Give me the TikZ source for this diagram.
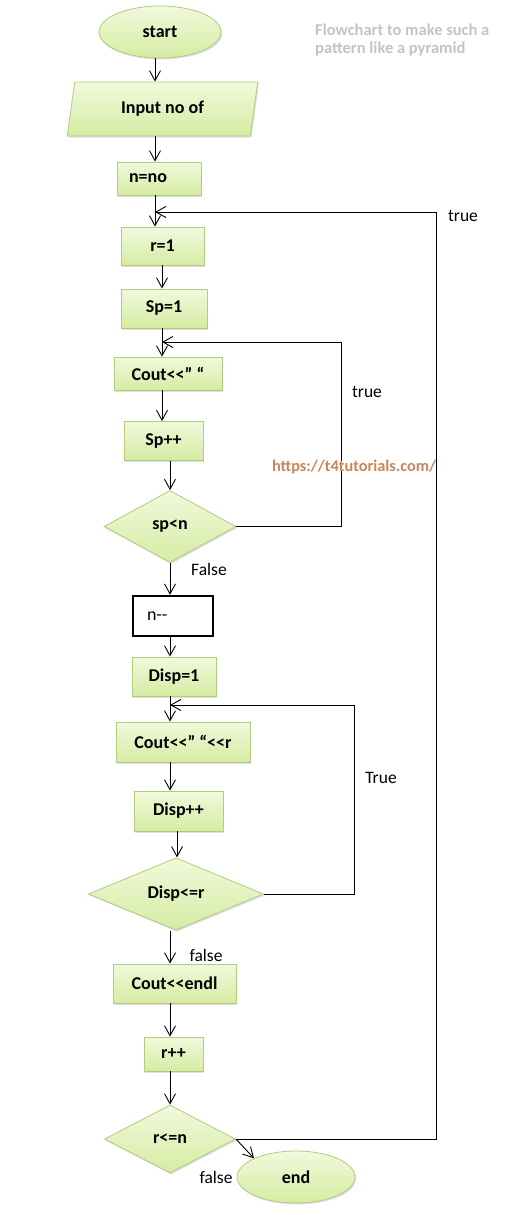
\documentclass[tikz,border=0pt]{standalone}
\usepackage{fontspec}
\setmainfont{Carlito}[Ligatures=TeXOff]
\usetikzlibrary{shapes.geometric,arrows.meta,shadows}
\definecolor{fillTop}{HTML}{F1F9DC}
\definecolor{fillBot}{HTML}{D5ECA3}
\definecolor{edgec}{HTML}{B2CB7F}
\definecolor{titlegray}{HTML}{C4C4C4}
\definecolor{wmark}{HTML}{C8865A}
\tikzset{
  base/.style={draw=edgec, line width=0.8pt, top color=fillTop, bottom color=fillBot,
    font=\bfseries\fontsize{18}{21}\selectfont, inner sep=0pt,
    drop shadow={shadow xshift=1.2pt, shadow yshift=-1.5pt, opacity=0.25, fill=black!50}},
  procbox/.style={base, rectangle},
  decide/.style={base, diamond},
  term/.style={base, ellipse},
  plainbox/.style={draw=black, line width=2.4pt, fill=white, rectangle, inner sep=0pt,
    font=\fontsize{18}{21}\selectfont},
  arr/.style={line width=0.9pt, -{Straight Barb[length=10pt,width=11pt,line width=0.9pt]}},
  lbl/.style={font=\fontsize{17.5}{20}\selectfont, inner sep=0pt}
}
\begin{document}
\begin{tikzpicture}[x=1pt,y=-1pt]
\useasboundingbox (0,0) rectangle (516,1215);
\fill[white] (0,0) rectangle (516,1215);

% column coordinates
\coordinate (cA) at (155,0);
\coordinate (cB) at (162,0);
\coordinate (cC) at (170,0);
\coordinate (cD) at (177,0);

% nodes
\node[term, minimum width=122pt, minimum height=52pt] (start) at (160,32) {start};
\node[base, trapezium, trapezium left angle=77, trapezium right angle=103,
      trapezium stretches=true, minimum width=191pt, minimum height=54pt] (input) at (162.5,109) {Input no of};
\node[procbox, minimum width=84pt, minimum height=33pt, text width=60pt, align=left] (nno) at (159,178.5) {n=no};
\node[procbox, minimum width=83pt, minimum height=38pt] (r1) at (162.5,246) {r=1};
\node[procbox, minimum width=86pt, minimum height=39pt] (sp1) at (164,308.5) {Sp=1};
\node[procbox, minimum width=108pt, minimum height=33pt] (cout1) at (168,373.5) {Cout<<” “};
\node[procbox, minimum width=79pt, minimum height=39pt] (spp) at (163.5,441) {Sp++};
\node[decide, minimum width=132pt, minimum height=72pt] (spn) at (170,526.5) {sp<n};
\node[plainbox, minimum width=80pt, minimum height=40pt, text width=52pt, align=left] (ndec) at (173,616) {n--};
\node[procbox, minimum width=84pt, minimum height=39pt] (disp1) at (174,676.5) {Disp=1};
\node[procbox, minimum width=134pt, minimum height=40pt] (cout2) at (183,742) {Cout<<” “<<r};
\node[procbox, minimum width=89pt, minimum height=40pt] (dispp) at (178.5,811) {Disp++};
\node[decide, minimum width=175pt, minimum height=68pt] (dle) at (176,894) {Disp<=r};
\node[procbox, minimum width=123pt, minimum height=39pt] (endl) at (174.5,983.5) {Cout<<endl};
\node[procbox, minimum width=59pt, minimum height=34pt] (rpp) at (173.5,1054) {r++};
\node[decide, minimum width=131pt, minimum height=68pt] (rle) at (170,1139) {r<=n};
\node[term, minimum width=118pt, minimum height=52pt] (end) at (296,1177) {end};

% straight connectors
\draw[arr] (start.south -| cA) -- (input.north -| cA);
\draw[arr] (input.south -| cA) -- (nno.north -| cA);
\draw[arr] (nno.south -| cA) -- (r1.north -| cA);
\draw[arr] (r1.south -| cB) -- (sp1.north -| cB);
\draw[arr] (sp1.south -| cB) -- (cout1.north -| cB);
\draw[arr] (cout1.south -| cB) -- (spp.north -| cB);
\draw[arr] (spp.south -| cC) -- (spn.north -| cC);
\draw[arr] (spn.south -| cC) -- (ndec.north -| cC);
\draw[arr] (ndec.south -| cC) -- (disp1.north -| cC);
\draw[arr] (disp1.south -| cC) -- (cout2.north -| cC);
\draw[arr] (cout2.south -| cC) -- (dispp.north -| cC);
\draw[arr] (dispp.south -| cD) -- (dle.north -| cD);
\draw[arr] (dle.south -| cC) -- (endl.north -| cC);
\draw[arr] (endl.south -| cC) -- (rpp.north -| cC);
\draw[arr] (rpp.south -| cC) -- (rle.north -| cC);
\draw[arr] (rle.east) -- (end.north west);

% loops
\coordinate (L1) at (341,342);
\coordinate (L2) at (354,705);
\coordinate (L3) at (436,212);
\draw[arr] (spn.east) -| (L1) -- (L1 -| cB);
\draw[arr] (dle.east) -| (L2) -- (L2 -| cC);
\draw[arr] (rle.east) -| (L3) -- (L3 -| cA);

% labels
\node[lbl] (t1) at (463,216) {true};
\node[lbl] (t2) at (367,392) {true};
\node[lbl] (f1) at (209,569) {False};
\node[lbl] (t3) at (381,778) {True};
\node[lbl] (f2) at (206,955) {false};
\node[lbl] (f3) at (216,1177) {false};

% title and watermark
\node[anchor=west, align=left, inner sep=0pt, text=titlegray,
      font=\bfseries\fontsize{16.5}{18}\selectfont] (title) at (315,40)
      {Flowchart to make such a\\pattern like a pyramid};
\node[inner sep=0pt, text=wmark, font=\bfseries\fontsize{16.3}{18}\selectfont] (wm) at (354,467) {https://t4tutorials.com/};
\end{tikzpicture}
\end{document}
